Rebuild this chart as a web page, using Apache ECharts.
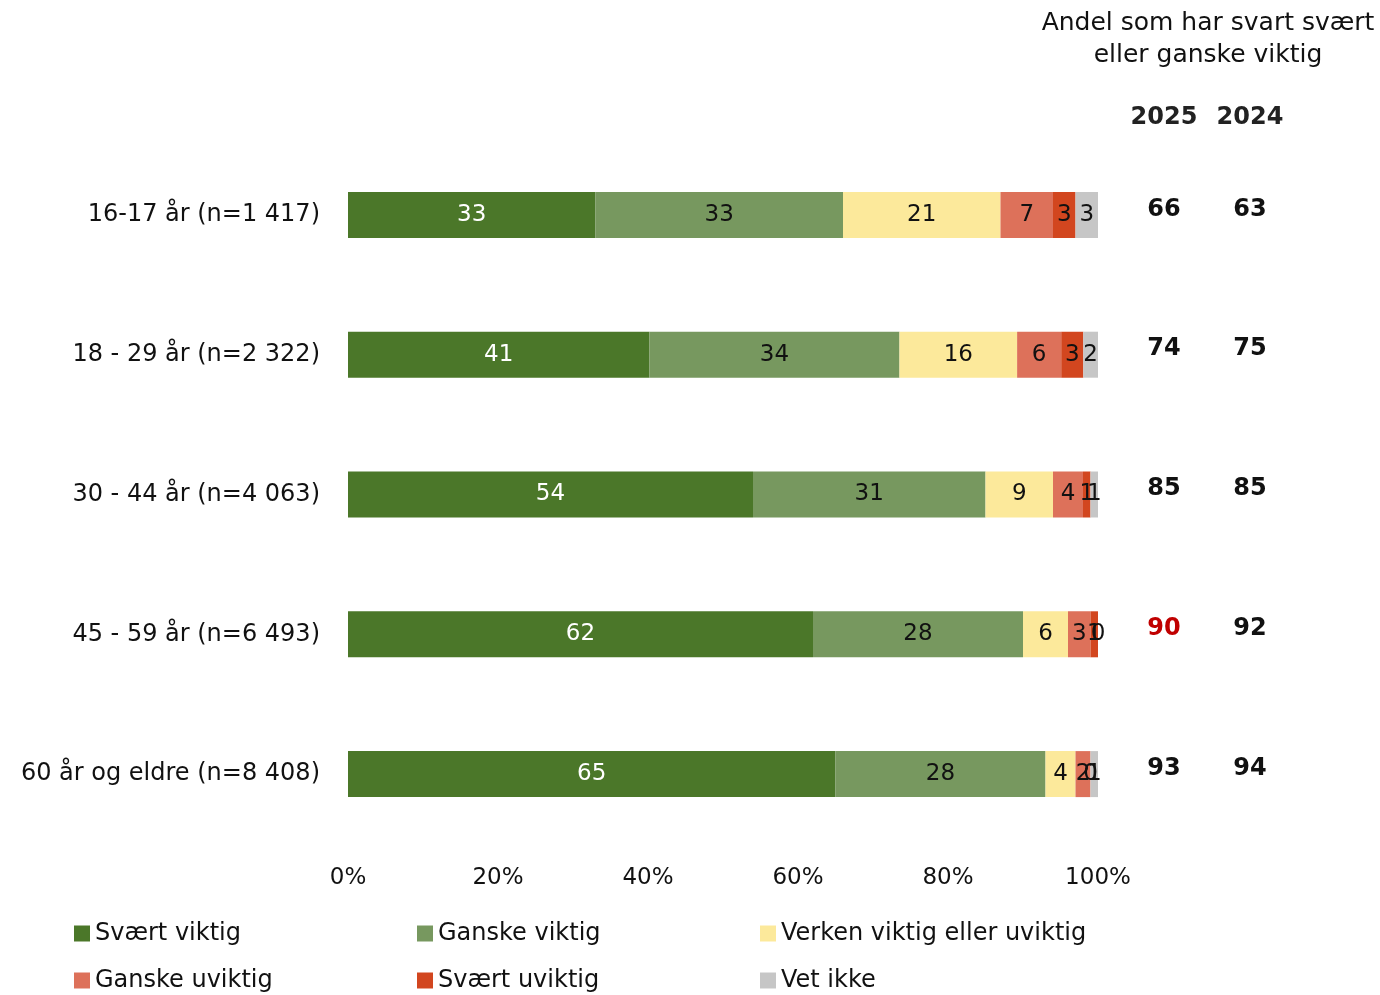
<!DOCTYPE html>
<html><head><meta charset="utf-8">
<script src="https://cdn.jsdelivr.net/npm/echarts@6/dist/echarts.min.js"></script>
<style>html,body{margin:0;padding:0;background:#fff}#c{width:1380px;height:995px}</style>
</head><body><div id="c"></div>
<script>
const categories = ['16-17 år (n=1 417)','18 - 29 år (n=2 322)','30 - 44 år (n=4 063)','45 - 59 år (n=6 493)','60 år og eldre (n=8 408)'];
const seriesNames = ['Svært viktig','Ganske viktig','Verken viktig eller uviktig','Ganske uviktig','Svært uviktig','Vet ikke'];
const svaertViktig   = [33, 41, 54, 62, 65];
const ganskeViktig   = [33, 34, 31, 28, 28];
const verken         = [21, 16, 9, 6, 4];
const ganskeUviktig  = [7, 6, 4, 3, 2];
const svaertUviktig  = [3, 3, 1, 1, 0];
const vetIkke        = [3, 2, 1, 0, 1];
const andel2025 = [66, 74, 85, 90, 93];
const andel2024 = [63, 75, 85, 92, 94];
const signif2025 = [false, false, false, true, false];
const yearHeaders = ['2025', '2024'];
const xTicks = [0, 20, 40, 60, 80, 100];
const rightTitle = 'Andel som har svart svært\neller ganske viktig';

const colors = ['#4b7729','#77985f','#fce99b','#dd715a','#d2461f','#c6c6c6'];
const labelColors = ['#ffffff','#111','#111','#111','#111','#111'];
const all = [svaertViktig, ganskeViktig, verken, ganskeUviktig, svaertUviktig, vetIkke];
const sums = categories.map((_, i) => all.reduce((s, a) => s + a[i], 0));
const FONT = 'DejaVu Sans';

const series = all.map((arr, k) => ({
  name: seriesNames[k],
  type: 'bar',
  stack: 'total',
  barWidth: 46,
  itemStyle: { color: colors[k] },
  label: {
    show: true, position: 'inside', color: labelColors[k],
    fontFamily: FONT, fontSize: 23, padding: [4, 0, 0, 0],
    formatter: p => String(p.data.raw)
  },
  data: arr.map((v, i) => ({ value: v / sums[i] * 100, raw: v }))
}));

const valRich = {
  n: { color: '#111', fontSize: 24, fontWeight: 'bold', fontFamily: FONT, padding: [0, 0, 11, 0] },
  r: { color: '#c00000', fontSize: 24, fontWeight: 'bold', fontFamily: FONT, padding: [0, 0, 11, 0] }
};

const chart = echarts.init(document.getElementById('c'));
chart.setOption({
  animation: false,
  color: colors,
  textStyle: { fontFamily: FONT },
  grid: { left: 348, right: 282, top: 145, bottom: 151 },
  xAxis: {
    type: 'value', min: 0, max: 100, interval: 20,
    axisLine: { show: false }, axisTick: { show: false }, splitLine: { show: false },
    axisLabel: { margin: 23, fontSize: 23, color: '#111', fontFamily: FONT,
      formatter: v => xTicks.includes(v) ? v + '%' : '' }
  },
  yAxis: [
    { type: 'category', data: categories, inverse: true,
      axisLine: { show: false }, axisTick: { show: false },
      axisLabel: { margin: 28, fontSize: 24, color: '#111', fontFamily: FONT, padding: [3, 0, 0, 0] } },
    { type: 'category', data: categories, inverse: true, position: 'right',
      axisLine: { show: false }, axisTick: { show: false },
      axisLabel: { margin: 66, align: 'center',
        formatter: (v, i) => (signif2025[i] ? '{r|' : '{n|') + andel2025[i] + '}',
        rich: valRich } },
    { type: 'category', data: categories, inverse: true, position: 'right',
      axisLine: { show: false }, axisTick: { show: false },
      axisLabel: { margin: 152, align: 'center',
        formatter: (v, i) => '{n|' + andel2024[i] + '}',
        rich: valRich } }
  ],
  legend: {
    left: 74, top: 915, width: 1030, orient: 'horizontal', padding: 0,
    itemWidth: 16, itemHeight: 16, itemGap: 10, icon: 'rect',
    textStyle: { fontSize: 24, color: '#111', fontFamily: FONT, width: 312, lineHeight: 37 },
    data: seriesNames
  },
  graphic: [
    { type: 'text', style: { x: 1208, y: 7, text: rightTitle, fill: '#111', font: '25px ' + FONT, textAlign: 'center', textVerticalAlign: 'top', lineHeight: 32 } },
    { type: 'text', style: { x: 1164, y: 118, text: yearHeaders[0], fill: '#222', font: 'bold 24px ' + FONT, textAlign: 'center', textVerticalAlign: 'middle' } },
    { type: 'text', style: { x: 1250, y: 118, text: yearHeaders[1], fill: '#222', font: 'bold 24px ' + FONT, textAlign: 'center', textVerticalAlign: 'middle' } }
  ],
  series: series
});
</script></body></html>
